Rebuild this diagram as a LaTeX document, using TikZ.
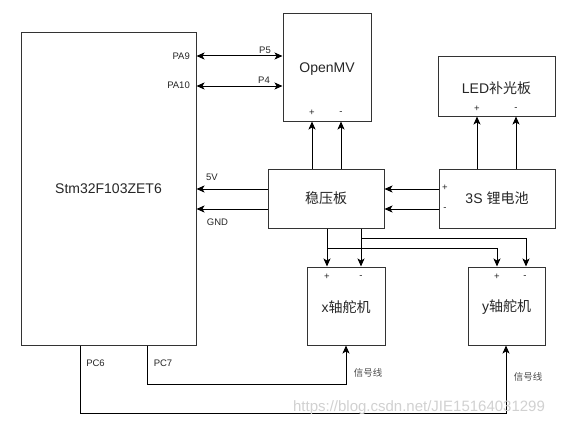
\documentclass[tikz,border=0pt]{standalone}
\usepackage{fontspec}
\setmainfont{Liberation Sans}
\newfontfamily\cjk{Noto Sans CJK SC}
\usetikzlibrary{arrows.meta}
\begin{document}
\begin{tikzpicture}[x=1pt,y=-1pt,
  box/.style={draw=black!80,line width=1pt,rectangle,inner sep=0pt,font=\fontsize{14}{16}\selectfont,text=black!85},
  wire/.style={draw=black,line width=1pt},
  arr/.style={wire,-{Stealth[length=8pt,width=7pt,inset=2pt]}},
  darr/.style={wire,{Stealth[length=8pt,width=7pt,inset=2pt]}-{Stealth[length=8pt,width=7pt,inset=2pt]}},
  lbl/.style={inner sep=0pt,font=\fontsize{9.5}{11}\selectfont,text=black!85},
  clbl/.style={inner sep=0pt,font=\fontsize{9.5}{11}\cjk,text=black!70}]
\useasboundingbox (0,0) rectangle (562,428);
\fill[white] (0,0) rectangle (562,428);
% boxes
\node[box,minimum width=175pt,minimum height=312pt] (stm) at (108.5,189) {Stm32F103ZET6};
\node[box,minimum width=88pt,minimum height=107pt] (omv) at (327,67.5) {};
\node[box,minimum width=117pt,minimum height=59pt] (led) at (496.5,86.5) {};
\node[box,minimum width=116pt,minimum height=59pt] (wy) at (326,198.5) {\cjk 稳压板};
\node[box,minimum width=116pt,minimum height=59pt] (bat) at (497,198.5) {3S {\cjk 锂电池}};
\node[box,minimum width=78pt,minimum height=78pt] (xs) at (346,306) {};
\node[box,minimum width=77pt,minimum height=78pt] (ys) at (506.5,306) {};
% box texts
\node[inner sep=0pt,font=\fontsize{14}{16}\selectfont,text=black!85] (omvt) at (327,69.5) {OpenMV};
\node[inner sep=0pt,font=\fontsize{14}{16}\selectfont,text=black!85] (ledt) at (496.5,88) {LED{\cjk 补光板}};
\node[inner sep=0pt,font=\fontsize{14}{16}\selectfont,text=black!85] (xst) at (346,307) {x{\cjk 轴舵机}};
\node[inner sep=0pt,font=\fontsize{14}{16}\selectfont,text=black!85] (yst) at (506.5,307) {y{\cjk 轴舵机}};
% helper coordinates
\coordinate (r56) at (0,56);
\coordinate (r86) at (0,86);
\coordinate (r189) at (0,189);
\coordinate (r209) at (0,209);
\coordinate (c312) at (312,0);
\coordinate (c341) at (341,0);
\coordinate (c477) at (477,0);
\coordinate (c516) at (516,0);
\coordinate (c327) at (327,0);
\coordinate (c361) at (361,0);
\coordinate (c497) at (497,0);
\coordinate (c526) at (526,0);
\coordinate (j1) at (327,248);
\coordinate (j2) at (361,238);
\coordinate (c147) at (147,0);
\coordinate (c80) at (80,0);
\coordinate (s1) at (346,384);
\coordinate (s2) at (506,413);
% UART
\draw[darr] (stm.east |- r56) -- (omv.west |- r56);
\draw[darr] (stm.east |- r86) -- (omv.west |- r86);
% power to OpenMV
\draw[arr] (wy.north -| c312) -- (omv.south -| c312);
\draw[arr] (wy.north -| c341) -- (omv.south -| c341);
% battery to LED
\draw[arr] (bat.north -| c477) -- (led.south -| c477);
\draw[arr] (bat.north -| c516) -- (led.south -| c516);
% regulator to stm
\draw[arr] (wy.west |- r189) -- (stm.east |- r189);
\draw[arr] (wy.west |- r209) -- (stm.east |- r209);
% battery to regulator
\draw[arr] (bat.west |- r189) -- (wy.east |- r189);
\draw[arr] (bat.west |- r209) -- (wy.east |- r209);
% regulator to servos
\draw[arr] (wy.south -| c327) -- (xs.north -| c327);
\draw[arr] (wy.south -| c361) -- (xs.north -| c361);
\draw[arr] (j1) -| (ys.north -| c497);
\draw[arr] (j2) -| (ys.north -| c526);
% signal lines
\draw[arr] (stm.south -| c147) |- (s1) -- (xs.south -| s1);
\draw[arr] (stm.south -| c80) |- (s2) -- (ys.south -| s2);
% labels
\node[lbl,anchor=east] (pa9) at (190,56) {PA9};
\node[lbl,anchor=east] (pa10) at (190,85.5) {PA10};
\node[lbl] (p5) at (265,50) {P5};
\node[lbl] (p4) at (264,80.5) {P4};
\node[lbl] (v5) at (212,177) {5V};
\node[lbl] (gnd) at (217.5,222) {GND};
\node[lbl] (bp) at (445,188) {+};
\node[lbl] (bm) at (445,209) {-};
\node[lbl] (op) at (312,113) {+};
\node[lbl] (om) at (341,113) {-};
\node[lbl] (lp) at (477,109) {+};
\node[lbl] (lm) at (516,109) {-};
\node[lbl] (xp) at (327,277) {+};
\node[lbl] (xm) at (361,277) {-};
\node[lbl] (yp) at (497,277) {+};
\node[lbl] (ym) at (525,277) {-};
\node[lbl] (pc6) at (95.5,363) {PC6};
\node[lbl] (pc7) at (163,363) {PC7};
\node[clbl] (sig1) at (368,373) {信号线};
\node[clbl] (sig2) at (528,377) {信号线};
% watermark
\node[inner sep=0pt,font=\fontsize{15}{17}\selectfont,text=black!18] (wm) at (419,408) {https://blog.csdn.net/JIE15164031299};
\end{tikzpicture}
\end{document}
